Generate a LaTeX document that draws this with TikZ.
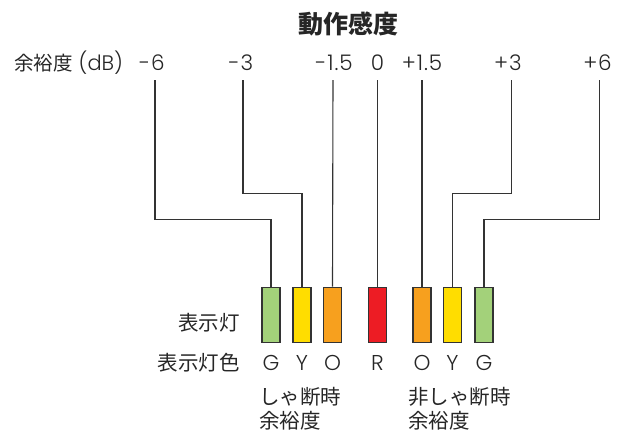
\documentclass[tikz,border=0pt]{standalone}
\usepackage{fontspec}
\setmainfont{Noto Sans CJK JP}
\newfontfamily\latf[LetterSpace=4]{Poppins Light}
\newfontfamily\latn{Poppins Light}
\definecolor{lineg}{HTML}{333333}
\definecolor{cgreen}{RGB}{163,209,122}
\definecolor{cyellow}{RGB}{255,221,0}
\definecolor{corange}{RGB}{247,160,30}
\definecolor{cred}{RGB}{237,28,36}
\begin{document}
\begin{tikzpicture}[x=1pt,y=-1pt,
  lbl/.style={inner sep=0pt,font=\fontsize{20.5}{24}\selectfont,text=black!85},
  lat/.style={inner sep=0pt,font=\fontsize{21.5}{24}\selectfont\latf,text=black!85},
  ttl/.style={inner sep=0pt,font=\fontsize{25}{30}\selectfont\bfseries,text=black!85},
  lamp/.style={draw=lineg,line width=1.2pt,minimum width=18pt,minimum height=55.5pt,inner sep=0pt},
  wire/.style={draw=lineg,line width=1.1pt}]
\useasboundingbox (0,0) rectangle (625,434);
% title
\node[ttl,anchor=base] (title) at (348.5,33) {動作感度};
% top row
\node[lbl,anchor=base west,font=\fontsize{19.5}{24}\selectfont] (mlabel) at (14,70) {余裕度\hspace{6pt}{\latn\fontsize{21}{24}\selectfont(dB)}};
\node[lat,anchor=base] (l1) at (152,70) {-6};
\node[lat,anchor=base] (l2) at (241,70) {-3};
\node[lat,anchor=base] (l3) at (334,70) {-1.5};
\node[lat,anchor=base] (l4) at (377.5,70) {0};
\node[lat,anchor=base] (l5) at (422,70) {+1.5};
\node[lat,anchor=base] (l6) at (508,70) {+3};
\node[lat,anchor=base] (l7) at (597.5,70) {+6};
% wire tops
\coordinate (t1) at (155,80);
\coordinate (t2) at (243,80);
\coordinate (t3) at (333,80);
\coordinate (t4) at (377.5,80);
\coordinate (t5) at (422,80);
\coordinate (t6) at (511.5,80);
\coordinate (t7) at (599.5,80);
\coordinate (hA) at (0,219.5);
\coordinate (hB) at (0,193.5);
% lamps
\node[lamp,fill=cgreen]  (b1) at (271,315) {};
\node[lamp,fill=cyellow] (b2) at (302,315) {};
\node[lamp,fill=corange] (b3) at (332.5,315) {};
\node[lamp,fill=cred]    (b4) at (377.5,315) {};
\node[lamp,fill=corange] (b5) at (422,315) {};
\node[lamp,fill=cyellow] (b6) at (452.5,315) {};
\node[lamp,fill=cgreen]  (b7) at (484,315) {};
% wires
\draw[wire] (t1) |- (b1.north |- hA) -- (b1.north);
\draw[wire] (t2) |- (b2.north |- hB) -- (b2.north);
\draw[wire] (t3) -- (b3.north);
\draw[wire] (t4) -- (b4.north);
\draw[wire] (t5) -- (b5.north);
\draw[wire] (t6) |- (b6.north |- hB) -- (b6.north);
\draw[wire] (t7) |- (b7.north |- hA) -- (b7.north);
% side labels
\node[lbl,anchor=base east] (lampl) at (240,330.5) {表示灯};
\node[lbl,anchor=base east] (colorl) at (240,370) {表示灯色};
\node[lat,anchor=base] (c1) at (b1.center |- 0,370) {G};
\node[lat,anchor=base] (c2) at (b2.center |- 0,370) {Y};
\node[lat,anchor=base] (c3) at (b3.center |- 0,370) {O};
\node[lat,anchor=base] (c4) at (b4.center |- 0,370) {R};
\node[lat,anchor=base] (c5) at (b5.center |- 0,370) {O};
\node[lat,anchor=base] (c6) at (b6.center |- 0,370) {Y};
\node[lat,anchor=base] (c7) at (b7.center |- 0,370) {G};
% bottom notes
\node[lbl,anchor=base west] (n1a) at (259,404) {しゃ断時};
\node[lbl,anchor=base west] (n1b) at (259,428) {余裕度};
\node[lbl,anchor=base west] (n2a) at (408,404) {非しゃ断時};
\node[lbl,anchor=base west] (n2b) at (408,428) {余裕度};
\end{tikzpicture}
\end{document}
